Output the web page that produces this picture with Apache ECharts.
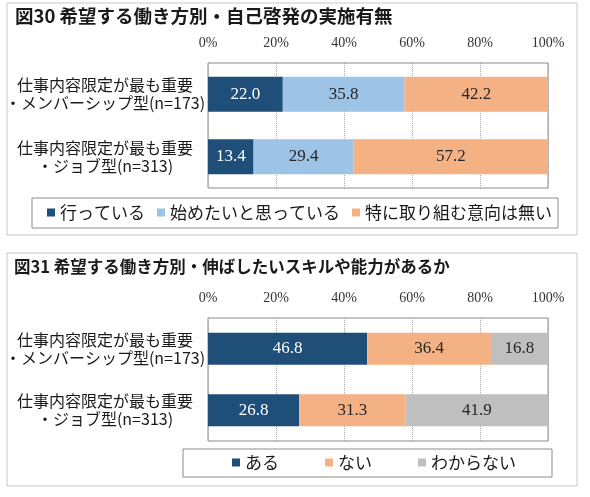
<!DOCTYPE html>
<html>
<head>
<meta charset="utf-8">
<script src="https://cdn.jsdelivr.net/npm/echarts@6/dist/echarts.min.js"></script>
<style>
html, body { margin: 0; padding: 0; background: #fff; }
#main { width: 590px; height: 497px; }
</style>
</head>
<body>
<div id="main"></div>
<script>
// 共通のカテゴリ
var categories = ['仕事内容限定が最も重要\n・メンバーシップ型(n=173)', '仕事内容限定が最も重要\n・ジョブ型(n=313)'];
var tickValues = [0, 20, 40, 60, 80, 100];

// 図30 自己啓発の実施有無
var names30 = ['行っている', '始めたいと思っている', '特に取り組む意向は無い'];
var doing = [22.0, 13.4];
var wantToStart = [35.8, 29.4];
var noIntent = [42.2, 57.2];

// 図31 伸ばしたいスキルや能力があるか
var names31 = ['ある', 'ない', 'わからない'];
var yes = [46.8, 26.8];
var no = [36.4, 31.3];
var unknown = [16.8, 41.9];

var DARK = '#1f4e79', LIGHT = '#9dc3e6', ORANGE = '#f4b183', GRAY = '#bfbfbf';
var SANS = 'Noto Sans CJK JP';
var SERIF = 'Liberation Serif';

var chart = echarts.init(document.getElementById('main'));

function xAxisOf(idx) {
    return {
        gridIndex: idx, type: 'value', position: 'top',
        min: tickValues[0], max: tickValues[tickValues.length - 1], interval: 20,
        axisLine: { show: false }, axisTick: { show: false },
        axisLabel: { formatter: '{value}%', fontFamily: SERIF, fontSize: 14, color: '#333', margin: 13 },
        splitLine: { show: true, lineStyle: { type: 'dotted', color: '#a6a6a6' } }
    };
}
function yAxisOf(idx) {
    return {
        gridIndex: idx, type: 'category', inverse: true, data: categories,
        axisLine: { show: false }, axisTick: { show: false },
        axisLabel: { fontFamily: SANS, fontSize: 16, lineHeight: 18, color: '#1a1a1a', align: 'center', margin: 103 }
    };
}
function barOf(name, data, color, axis, stack, textColor, width) {
    return {
        name: name, type: 'bar', stack: stack, data: data,
        xAxisIndex: axis, yAxisIndex: axis, barWidth: width,
        itemStyle: { color: color },
        label: {
            show: true, position: 'inside', fontFamily: SERIF, fontSize: 17, color: textColor,
            formatter: function (p) { return p.value.toFixed(1); }
        }
    };
}
function legendOf(names, left, top, gap) {
    return {
        data: names, left: left, top: top, padding: 0, itemGap: gap,
        icon: 'rect', itemWidth: 8, itemHeight: 8, selectedMode: false,
        textStyle: { fontFamily: SANS, fontSize: 17, color: '#1a1a1a' }
    };
}

var option = {
    backgroundColor: '#fff',
    animation: false,
    graphic: [
        { type: 'rect', shape: { x: 7, y: 3, width: 570, height: 232 }, style: { fill: 'none', stroke: '#c8c8c8', lineWidth: 1 } },
        { type: 'rect', shape: { x: 7, y: 253, width: 570, height: 233 }, style: { fill: 'none', stroke: '#c8c8c8', lineWidth: 1 } },
        { type: 'rect', shape: { x: 32, y: 198, width: 526, height: 30 }, style: { fill: 'none', stroke: '#8c8c8c', lineWidth: 1 } },
        { type: 'rect', shape: { x: 183, y: 449, width: 369, height: 28 }, style: { fill: 'none', stroke: '#8c8c8c', lineWidth: 1 } }
    ],
    title: [
        { text: '図30 希望する働き方別・自己啓発の実施有無', left: 15, top: 7, padding: 0,
          textStyle: { fontFamily: SANS, fontSize: 18.5, fontWeight: 'bold', color: '#1a1a1a' } },
        { text: '図31 希望する働き方別・伸ばしたいスキルや能力があるか', left: 14, top: 258, padding: 0,
          textStyle: { fontFamily: SANS, fontSize: 16.5, fontWeight: 'bold', color: '#1a1a1a' } }
    ],
    legend: [
        legendOf(names30, 47, 204, 12),
        legendOf(names31, 232, 454, 46)
    ],
    grid: [
        { left: 208, right: 42, top: 63, height: 125, show: true, borderColor: '#8c8c8c', borderWidth: 1, backgroundColor: 'transparent' },
        { left: 208, right: 42, top: 318, height: 123, show: true, borderColor: '#8c8c8c', borderWidth: 1, backgroundColor: 'transparent' }
    ],
    xAxis: [xAxisOf(0), xAxisOf(1)],
    yAxis: [yAxisOf(0), yAxisOf(1)],
    series: [
        barOf(names30[0], doing, DARK, 0, 'c30', '#fff', 35),
        barOf(names30[1], wantToStart, LIGHT, 0, 'c30', '#262626', 35),
        barOf(names30[2], noIntent, ORANGE, 0, 'c30', '#262626', 35),
        barOf(names31[0], yes, DARK, 1, 'c31', '#fff', 32),
        barOf(names31[1], no, ORANGE, 1, 'c31', '#262626', 32),
        barOf(names31[2], unknown, GRAY, 1, 'c31', '#262626', 32)
    ]
};

chart.setOption(option);
</script>
</body>
</html>
